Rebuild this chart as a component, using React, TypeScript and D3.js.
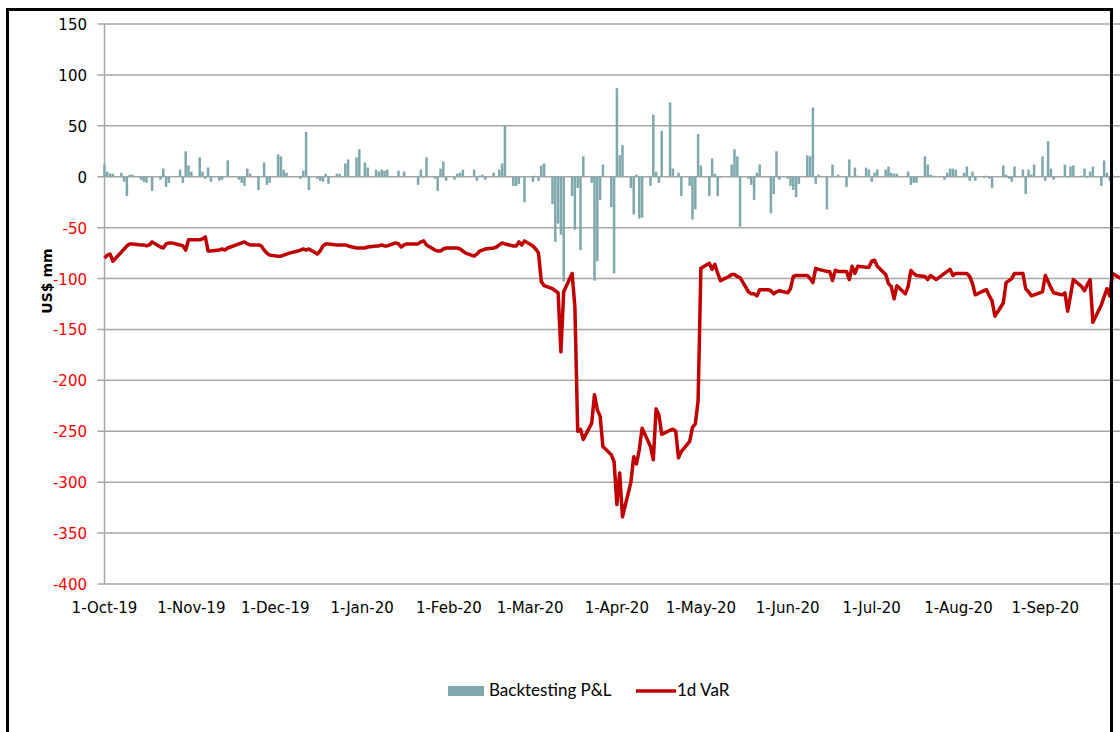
import React from "react";
import * as d3 from "d3";

// daily backtesting P&L, one value per business day, US$ mm
const pnlOct = [12, 5, 3, 3, 4, -5, -19, 2, 2, -3, -5, -6, 0, -14, -3, 8, -10, -6, 0, 7, -6, 25, 11];
const pnlNov = [5, 19, 5, -2, 9, -5, -4, -3, 0, 16, 0, -3, -6, -9, 8, 3, -13, 0, 14, -8, -6];
const pnlDec = [22, 20, 7, 4, 0, 0, -2, 6, 44, -13, -2, -4, -5, 3, -7, 3, 3, 0, 13, 17, 19, 27];
const pnlJan = [0, 14, 9, 7, 5, 7, 6, 7, 0, 6, 0, 5, 0, 0, -8, 7, -1, 19, -2, -14, 8, 15, -4];
const pnlFeb = [-3, 3, 4, 7, 0, 7, -4, 1, 2, -3, 4, 0, 7, 13, 50, -9, -9, -7, 0, -25];
const pnlMar = [-5, 1, -4, 11, 13, -27, -64, -46, -57, -103, -19, -52, -11, -72, 20, -6, -102, -83, -23, 12, -30, -95];
const pnlApr = [87, 21, 31, -11, -37, 2, -41, -40, -9, 61, 5, -6, 45, 73, 8, 0, 4, -19, -9, -42, -32, 42];
const pnlMay = [11, -19, 18, 3, -19, -1, 0, 12, 27, 20, -49, -2, -8, -23, 4, 12, 0, -36, -17, 25, -3];
const pnlJun = [-2, -9, -13, -20, -7, 21, 20, 68, -7, 2, -32, 0, 12, 0, 2, -10, 17, 0, 9, 1, 9, 7];
const pnlJul = [-5, 4, 7, 7, 10, 4, 3, 3, 0, 5, -8, -6, -6, 20, 12, 2, 1, 0, -3, 4, 8, 8, 7];
const pnlAug = [4, 10, -4, 5, -4, -1, 1, -2, -11, 0, 11, 2, -2, -5, 10, 7, -17, 7, 2, 12, 20];
const pnlSep = [-4, 35, 8, -3, 0, 12, -1, 10, 11, 1, 8, -1, 5, 10, -9, 16, 4, -4, 2, 0, 3, 2];

// 1d VaR, same business days
const varOct = [-80, -77, -76, -83, -74, -71, -68, -66, -66, -67, -67, -68, -67, -64, -69, -70, -66, -65, -65, -67, -68, -72, -62];
const varNov = [-62, -62, -61, -59, -73, -73, -72, -71, -72, -70, -69, -66, -65, -64, -66, -67, -67, -68, -72, -75, -77];
const varDec = [-78, -78, -77, -76, -75, -73, -72, -71, -72, -71, -76, -73, -68, -66, -66, -67, -67, -67, -67, -68, -70, -70];
const varJan = [-70, -70, -69, -68, -68, -67, -68, -68, -65, -66, -69, -67, -66, -66, -66, -64, -63, -67, -72, -73, -73, -71, -70];
const varFeb = [-70, -70, -71, -73, -75, -78, -76, -73, -72, -71, -70, -69, -67, -65, -66, -68, -68, -64, -67, -63];
const varMar = [-68, -71, -75, -103, -107, -110, -112, -114, -172, -113, -95, -128, -250, -248, -258, -242, -214, -229, -235, -265, -273, -280];
const varApr = [-322, -291, -334, -300, -275, -282, -268, -247, -265, -278, -228, -234, -253, -249, -248, -250, -276, -270, -260, -246, -243, -220];
const varMay = [-90, -85, -91, -86, -95, -102, -98, -96, -96, -98, -99, -113, -115, -115, -117, -111, -111, -112, -115, -113, -112];
const varJun = [-114, -110, -98, -97, -97, -97, -100, -104, -90, -91, -93, -93, -102, -92, -93, -93, -101, -88, -95, -88, -89, -89];
const varJul = [-83, -82, -88, -96, -105, -108, -120, -107, -115, -108, -92, -95, -97, -98, -101, -97, -99, -101, -95, -93, -91, -97, -95];
const varAug = [-95, -95, -98, -105, -116, -112, -111, -117, -122, -137, -124, -104, -102, -100, -95, -95, -110, -113, -117, -116, -113];
const varSep = [-97, -103, -109, -114, -116, -114, -132, -117, -101, -108, -112, -106, -101, -143, -126, -118, -110, -117, -95, -100, -102, -98];

const yTicks = [150, 100, 50, 0, -50, -100, -150, -200, -250, -300, -350, -400];

const pnl = [...pnlOct, ...pnlNov, ...pnlDec, ...pnlJan, ...pnlFeb, ...pnlMar, ...pnlApr, ...pnlMay, ...pnlJun, ...pnlJul, ...pnlAug, ...pnlSep];
const vaR = [...varOct, ...varNov, ...varDec, ...varJan, ...varFeb, ...varMar, ...varApr, ...varMay, ...varJun, ...varJul, ...varAug, ...varSep];

const start = new Date(Date.UTC(2019, 9, 1));
const end = new Date(Date.UTC(2020, 8, 30));
const days = d3.utcDay.range(start, d3.utcDay.offset(end, 1)).filter(d => d.getUTCDay() % 6 !== 0);
const rows = days.map((date, i) => ({ date, pnl: pnl[i], vaR: vaR[i] }));

const W = 1120, H = 732;
const left = 104.5, top = 24, bottom = 584;
const gridColor = "#a6a6a6";
const barColor = "#7ea8ac";
const lineColor = "#c00000";
const font = "'DejaVu Sans', Verdana, sans-serif";
const legendFont = "Lato, 'Open Sans', sans-serif";

export default function App() {
  const x = d3.scaleUtc().domain([start, end]).range([left, left + 365 * 2.8]);
  const y = d3.scaleLinear().domain([-400, 150]).range([bottom, top]);
  const months = d3.utcMonth.range(start, d3.utcDay.offset(end, 1));
  const fmt = d3.utcFormat("%-d-%b-%y");
  const line = d3.line<any>().x(d => x(d.date)).y(d => y(d.vaR));

  return (
    <svg width={W} height={H} style={{ position: "absolute", left: 0, top: 0, background: "#fff" }}>
      <rect width={W} height={H} fill="#fff" />
      {/* gridlines + y ticks */}
      {yTicks.map(t => (
        <g key={t}>
          <line x1={left - 7} x2={W} y1={y(t)} y2={y(t)} stroke={gridColor} strokeWidth={1.5} />
          <text x={87} y={y(t) + 6} textAnchor="end" fontFamily={font} fontSize={15} fill={t < 0 ? "#ff0000" : "#000"}>
            {t}
          </text>
        </g>
      ))}
      <line x1={left} x2={left} y1={top} y2={bottom} stroke={gridColor} strokeWidth={1.5} />

      {/* P&L bars */}
      {rows.map((d, i) => (
        <rect key={i} x={x(d.date) - 1.25} width={2.5}
          y={Math.min(y(d.pnl), y(0))} height={Math.abs(y(d.pnl) - y(0))} fill={barColor} />
      ))}

      {/* VaR line */}
      <path d={line(rows) || ""} fill="none" stroke={lineColor} strokeWidth={3.5} strokeLinejoin="round" />

      {/* x labels */}
      {months.map(m => (
        <text key={+m} x={x(m)} y={613} textAnchor="middle" fontFamily={font} fontSize={15} fill="#000">
          {fmt(m)}
        </text>
      ))}

      <text transform="translate(52,281) rotate(-90)" textAnchor="middle" fontFamily={font} fontSize={14} fontWeight="bold" fill="#000">
        US$ mm
      </text>

      {/* legend */}
      <rect x={448} y={686} width={36} height={10} fill={barColor} />
      <text x={489} y={696} fontFamily={legendFont} fontSize={17} fill="#000">Backtesting P&amp;L</text>
      <line x1={636} x2={676} y1={691} y2={691} stroke={lineColor} strokeWidth={3.5} />
      <text x={677} y={696} fontFamily={legendFont} fontSize={17} fill="#000">1d VaR</text>

      {/* outer frame */}
      <rect x={7.5} y={9.5} width={1104} height={760} fill="none" stroke="#000" strokeWidth={3} />
    </svg>
  );
}
